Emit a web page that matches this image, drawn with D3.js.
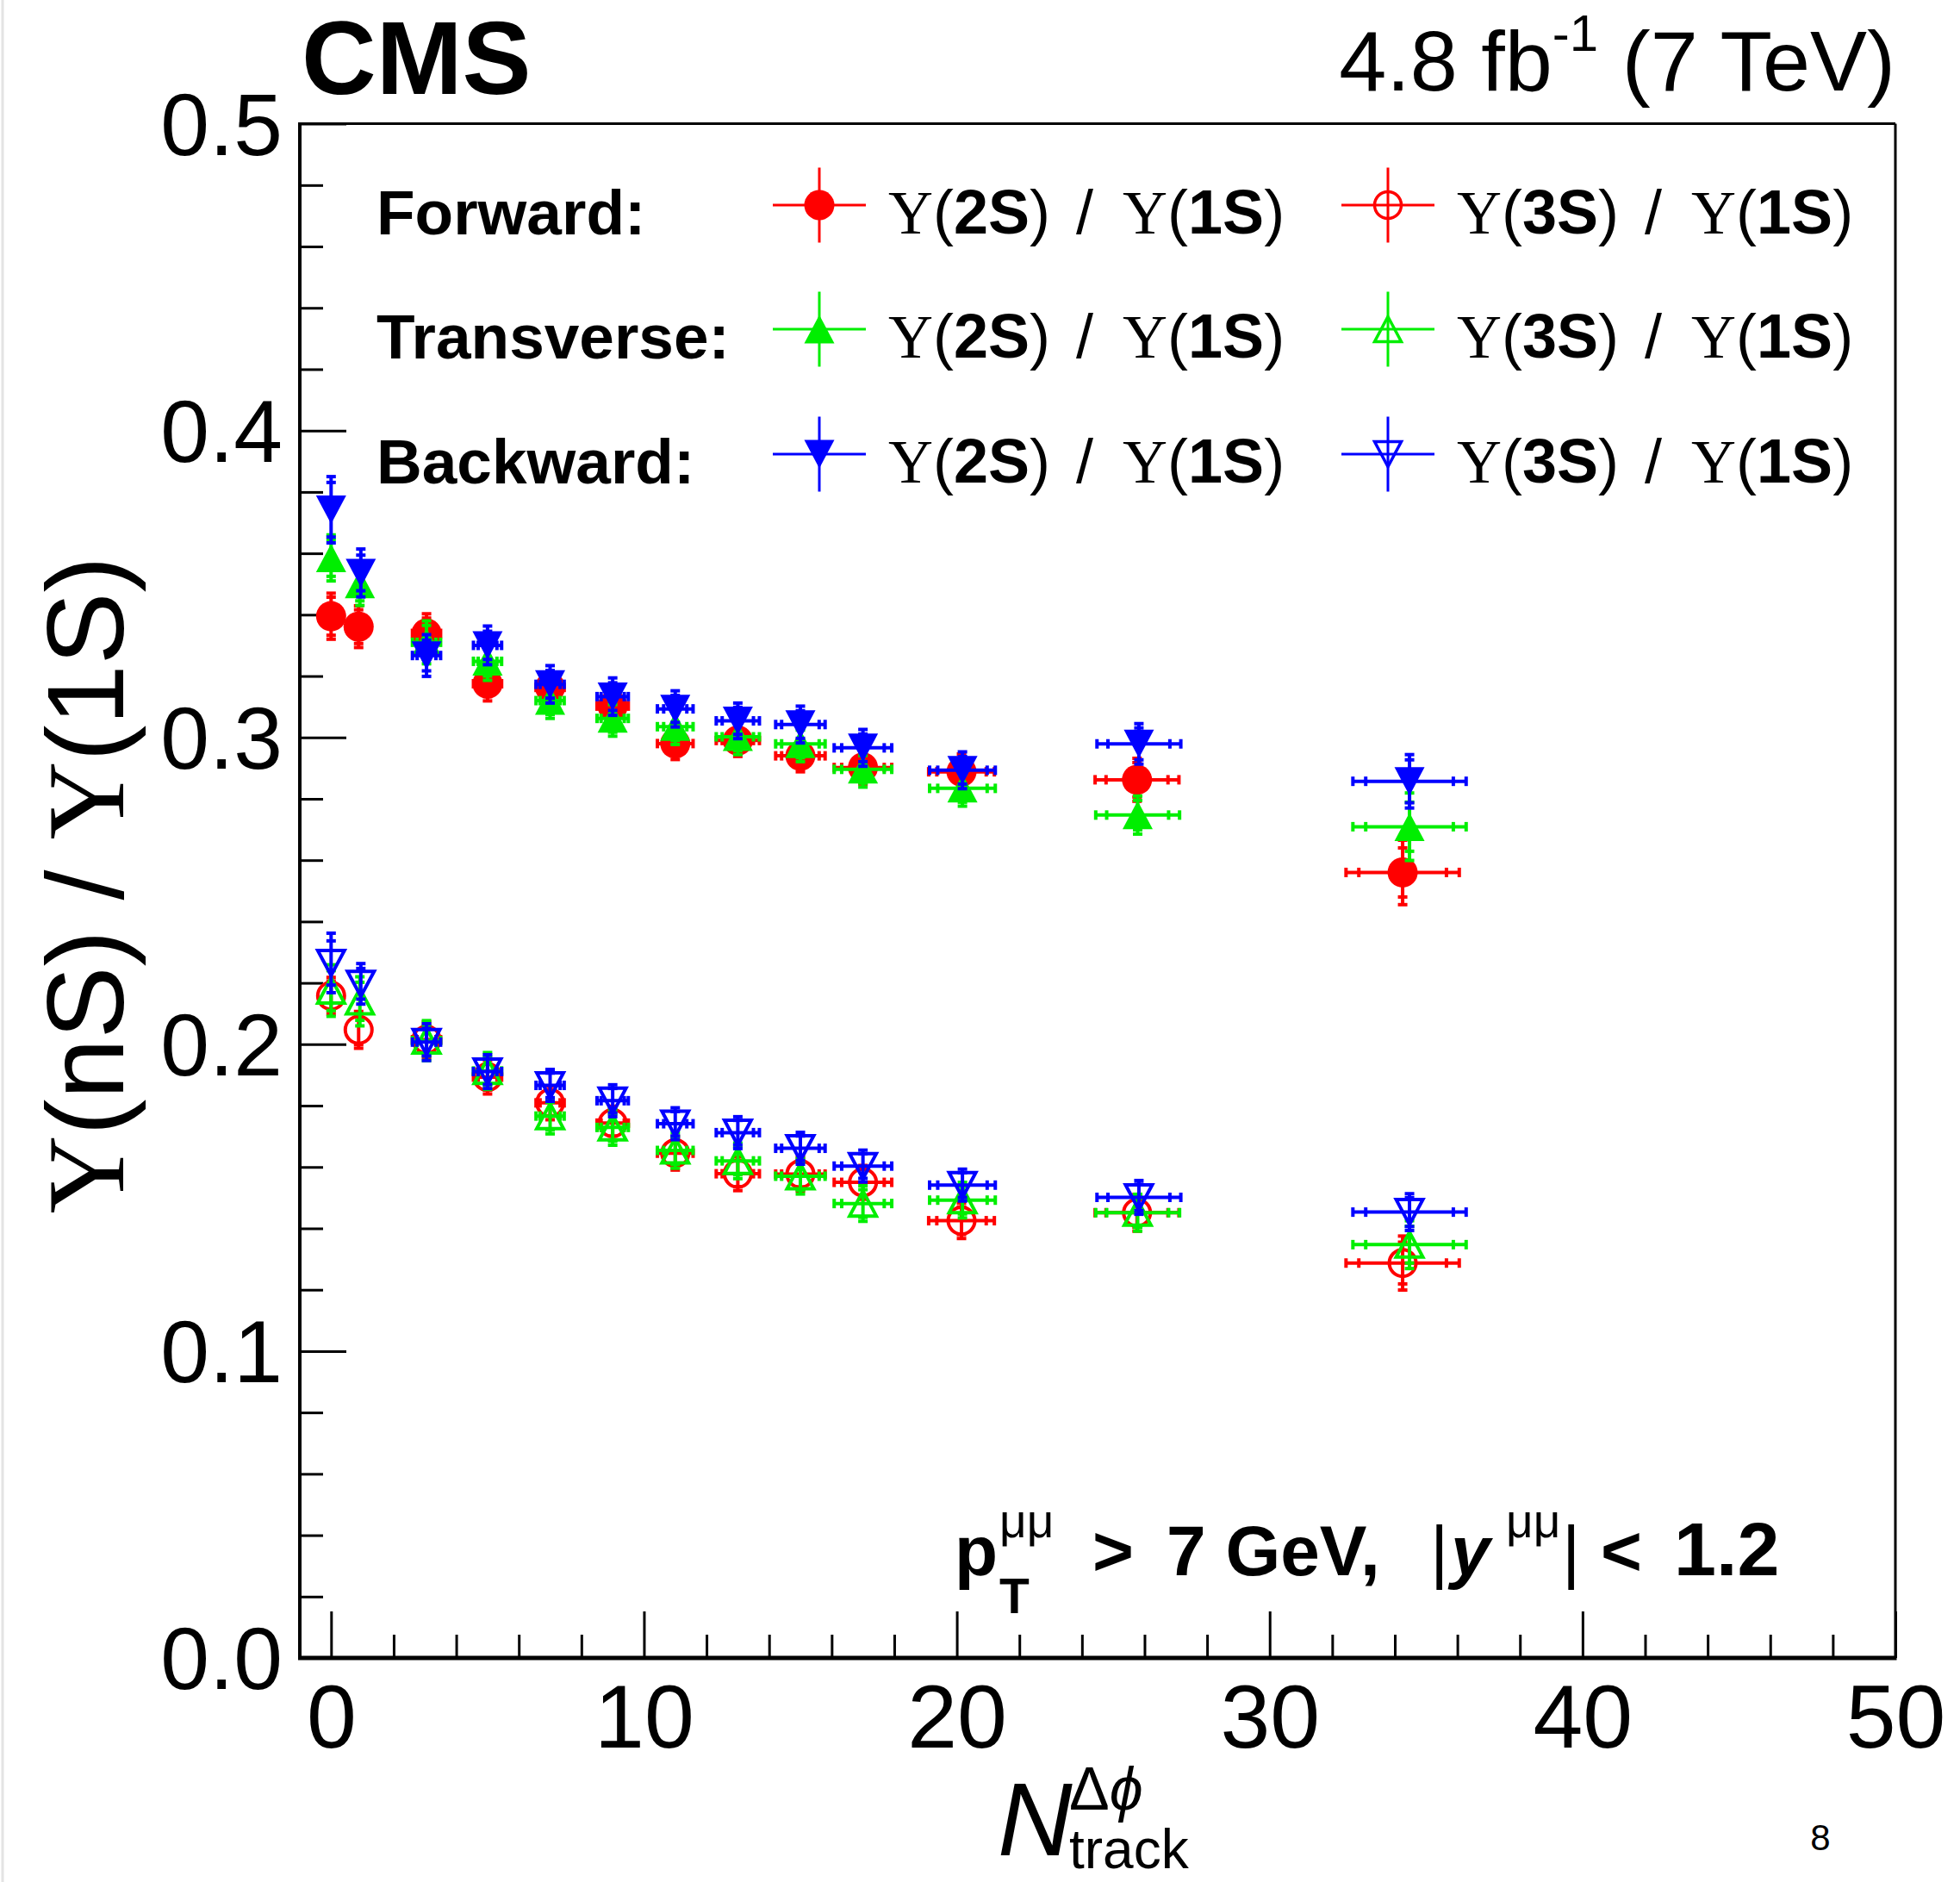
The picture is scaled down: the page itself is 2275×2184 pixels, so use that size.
<!DOCTYPE html>
<html>
<head>
<meta charset="utf-8">
<script src="https://cdn.jsdelivr.net/npm/d3@7"></script>
<style>
body { margin: 0; background: #fff; }
svg { display: block; }
text { font-family: "Liberation Sans", Arial, sans-serif; white-space: pre; }
</style>
</head>
<body>
<svg id="svg" width="2275" height="2184"></svg>
<script>
// bin centres per region (the points are shifted a little in the last bins)
var xFwd   = [0, 0.88, 3.05, 5, 7, 9, 11, 13, 15, 17, 20.15, 25.76, 34.25];
var xTrans = [0, 0.92, 3.05, 5, 7, 9, 11, 13, 15, 17, 20.18, 25.78, 34.47];
var xBack  = [0, 0.95, 3.05, 5, 7, 9, 11, 13, 15, 17, 20.18, 25.82, 34.47];
// horizontal error bars (outer and inner tick)
var xErrOut = [0, 0, 0.45, 0.45, 0.45, 0.5, 0.57, 0.69, 0.79, 0.92, 1.05, 1.34, 1.81];
var xErrIn  = [0, 0, 0.3, 0.3, 0.32, 0.37, 0.37, 0.5, 0.6, 0.68, 0.79, 0.99, 1.4];

// Y(2S)/Y(1S)
var fwd2S   = [0.3395, 0.3361, 0.3339, 0.3175, 0.3163, 0.3102, 0.2980, 0.2990, 0.2940, 0.2902, 0.2888, 0.2862, 0.2560];
var fwd2SErr  = [0.0075, 0.0068, 0.0064, 0.0056, 0.0052, 0.0052, 0.0052, 0.0052, 0.0052, 0.0054, 0.0058, 0.0070, 0.0105];
var fwd2SStat = [0.0062, 0.0055, 0.0050, 0.0042, 0.0040, 0.0040, 0.0040, 0.0040, 0.0040, 0.0042, 0.0045, 0.0056, 0.0080];
var trans2S = [0.3585, 0.3500, 0.3310, 0.3248, 0.3120, 0.3062, 0.3035, 0.3002, 0.2979, 0.2896, 0.2834, 0.2747, 0.2709];
var trans2SErr  = [0.0075, 0.0070, 0.0070, 0.0062, 0.0058, 0.0058, 0.0058, 0.0058, 0.0058, 0.0058, 0.0058, 0.0062, 0.0110];
var trans2SStat = [0.0060, 0.0055, 0.0055, 0.0048, 0.0045, 0.0045, 0.0045, 0.0045, 0.0045, 0.0045, 0.0045, 0.0048, 0.0080];
var back2S  = [0.3742, 0.3536, 0.3267, 0.3300, 0.3173, 0.3133, 0.3093, 0.3054, 0.3042, 0.2966, 0.2893, 0.2979, 0.2857];
var back2SErr  = [0.0108, 0.0078, 0.0068, 0.0063, 0.0061, 0.0061, 0.0059, 0.0058, 0.0060, 0.0060, 0.0060, 0.0066, 0.0087];
var back2SStat = [0.0089, 0.0058, 0.0050, 0.0046, 0.0045, 0.0045, 0.0044, 0.0044, 0.0045, 0.0045, 0.0045, 0.0052, 0.0070];

// Y(3S)/Y(1S)
var fwd3S   = [0.2158, 0.2047, 0.2015, 0.1893, 0.1809, 0.1743, 0.1645, 0.1578, 0.1577, 0.1550, 0.1425, 0.1451, 0.1287];
var fwd3SErr  = [0.0060, 0.0060, 0.0058, 0.0055, 0.0055, 0.0055, 0.0055, 0.0055, 0.0055, 0.0055, 0.0058, 0.0060, 0.0088];
var fwd3SStat = [0.0048, 0.0048, 0.0045, 0.0042, 0.0042, 0.0042, 0.0042, 0.0042, 0.0042, 0.0042, 0.0045, 0.0047, 0.0068];
var trans3S = [0.2175, 0.2140, 0.2012, 0.1913, 0.1766, 0.1729, 0.1654, 0.1620, 0.1570, 0.1481, 0.1492, 0.1451, 0.1347];
var trans3SErr  = [0.0084, 0.0080, 0.0065, 0.0060, 0.0058, 0.0058, 0.0058, 0.0058, 0.0058, 0.0058, 0.0058, 0.0060, 0.0078];
var trans3SStat = [0.0065, 0.0062, 0.0050, 0.0046, 0.0045, 0.0045, 0.0045, 0.0045, 0.0045, 0.0045, 0.0045, 0.0047, 0.0060];
var back3S  = [0.2265, 0.2197, 0.2007, 0.1911, 0.1866, 0.1816, 0.1741, 0.1712, 0.1661, 0.1603, 0.1541, 0.1501, 0.1453];
var back3SErr  = [0.0097, 0.0066, 0.0060, 0.0055, 0.0052, 0.0052, 0.0052, 0.0052, 0.0052, 0.0052, 0.0052, 0.0055, 0.0060];
var back3SStat = [0.0072, 0.0050, 0.0045, 0.0042, 0.0040, 0.0040, 0.0040, 0.0040, 0.0040, 0.0040, 0.0040, 0.0043, 0.0047];

var xMajor = [0, 10, 20, 30, 40, 50];
var yMajor = [0, 0.1, 0.2, 0.3, 0.4, 0.5];
var regions = ["Forward:", "Transverse:", "Backward:"];

var series = [
  {x: xFwd,   y: fwd2S,   err: fwd2SErr,   stat: fwd2SStat,   color: "#ff0000", shape: "circle", filled: true,  row: 0, col: 0, n: "2"},
  {x: xFwd,   y: fwd3S,   err: fwd3SErr,   stat: fwd3SStat,   color: "#ff0000", shape: "circle", filled: false, row: 0, col: 1, n: "3"},
  {x: xTrans, y: trans2S, err: trans2SErr, stat: trans2SStat, color: "#00ee00", shape: "up",     filled: true,  row: 1, col: 0, n: "2"},
  {x: xTrans, y: trans3S, err: trans3SErr, stat: trans3SStat, color: "#00ee00", shape: "up",     filled: false, row: 1, col: 1, n: "3"},
  {x: xBack,  y: back2S,  err: back2SErr,  stat: back2SStat,  color: "#0000ff", shape: "down",   filled: true,  row: 2, col: 0, n: "2"},
  {x: xBack,  y: back3S,  err: back3SErr,  stat: back3SStat,  color: "#0000ff", shape: "down",   filled: false, row: 2, col: 1, n: "3"}
];

var svg = d3.select("#svg");
var x = d3.scaleLinear().domain([-1, 50]).range([348, 2200]);
var y = d3.scaleLinear().domain([0, 0.5]).range([1924, 143.6]);

// faint page edge on the left
svg.append("line").attr("x1", 3).attr("x2", 3).attr("y1", 0).attr("y2", 2184)
  .attr("stroke", "#e4e4e4").attr("stroke-width", 3);

// axes
var gx = svg.append("g").attr("transform", "translate(0,1924)")
  .call(d3.axisBottom(x).tickValues(d3.range(0, 50, 2).filter(function(d){ return d % 10 != 0; })).tickSize(-27).tickFormat(""));
var gx2 = svg.append("g").attr("transform", "translate(0,1924)")
  .call(d3.axisBottom(x).tickValues(xMajor).tickSize(-54).tickPadding(30).tickFormat(d3.format("d")));
var gy = svg.append("g").attr("transform", "translate(348,0)")
  .call(d3.axisLeft(y).tickValues(d3.range(0.02, 0.5, 0.02).filter(function(d){ return Math.abs(d*10 - Math.round(d*10)) > 0.01; })).tickSize(-27).tickFormat(""));
var gy2 = svg.append("g").attr("transform", "translate(348,0)")
  .call(d3.axisLeft(y).tickValues(yMajor).tickSize(-54).tickPadding(20).tickFormat(d3.format(".1f")));
[gx, gx2, gy, gy2].forEach(function(g){
  g.select(".domain").remove();
  g.selectAll(".tick line").attr("stroke", "#000").attr("stroke-width", 3);
});
gx2.selectAll(".tick text").attr("font-size", 104).attr("fill", "#000").attr("font-family", "Liberation Sans, Arial, sans-serif");
gy2.selectAll(".tick text").attr("font-size", 102).attr("fill", "#000").attr("font-family", "Liberation Sans, Arial, sans-serif").attr("dy", "0.35em");

// frame
svg.append("line").attr("x1", 348).attr("x2", 2200).attr("y1", 143.6).attr("y2", 143.6).attr("stroke", "#000").attr("stroke-width", 3);
svg.append("line").attr("x1", 2200).attr("x2", 2200).attr("y1", 143.6).attr("y2", 1924).attr("stroke", "#000").attr("stroke-width", 3);
svg.append("line").attr("x1", 348).attr("x2", 348).attr("y1", 142).attr("y2", 1926).attr("stroke", "#000").attr("stroke-width", 4);
svg.append("line").attr("x1", 346).attr("x2", 2201.5).attr("y1", 1924).attr("y2", 1924).attr("stroke", "#000").attr("stroke-width", 5);

function markerPath(shape, filled) {
  var w = filled ? 17.5 : 15.5, h = filled ? 16.5 : 14.5, r = filled ? 17.5 : 15.5;
  if (shape == "circle") return "M" + r + ",0A" + r + "," + r + " 0 1 1 " + (-r) + ",0A" + r + "," + r + " 0 1 1 " + r + ",0Z";
  if (shape == "up") return "M0," + (-h) + "L" + w + "," + h + "L" + (-w) + "," + h + "Z";
  return "M" + (-w) + "," + (-h) + "L" + w + "," + (-h) + "L0," + h + "Z";
}

var cap = 5.5;
series.forEach(function(s) {
  var g = svg.append("g").attr("stroke", s.color).attr("stroke-width", 4).attr("fill", "none");
  var pts = s.y.map(function(v, i) { return {i: i, x: s.x[i], y: v, err: s.err[i], stat: s.stat[i], xo: xErrOut[i], xi: xErrIn[i]}; });

  var eb = g.selectAll("g.pt").data(pts).enter().append("g").attr("class", "pt");
  // vertical bars and caps
  eb.append("line")
    .attr("x1", function(d){ return x(d.x); }).attr("x2", function(d){ return x(d.x); })
    .attr("y1", function(d){ return y(d.y - d.err); }).attr("y2", function(d){ return y(d.y + d.err); });
  [-1, 1].forEach(function(sg) {
    ["err", "stat"].forEach(function(k) {
      eb.append("line")
        .attr("x1", function(d){ return x(d.x) - cap; }).attr("x2", function(d){ return x(d.x) + cap; })
        .attr("y1", function(d){ return y(d.y + sg * d[k]); }).attr("y2", function(d){ return y(d.y + sg * d[k]); });
    });
  });
  // horizontal bars and ticks
  var hb = eb.filter(function(d){ return d.xo > 0; });
  hb.append("line")
    .attr("x1", function(d){ return x(d.x - d.xo); }).attr("x2", function(d){ return x(d.x + d.xo); })
    .attr("y1", function(d){ return y(d.y); }).attr("y2", function(d){ return y(d.y); });
  [-1, 1].forEach(function(sg) {
    ["xo", "xi"].forEach(function(k) {
      hb.append("line")
        .attr("x1", function(d){ return x(d.x + sg * d[k]); }).attr("x2", function(d){ return x(d.x + sg * d[k]); })
        .attr("y1", function(d){ return y(d.y) - cap; }).attr("y2", function(d){ return y(d.y) + cap; });
    });
  });
  // markers
  g.selectAll("path.mk").data(pts).enter().append("path").attr("class", "mk")
    .attr("transform", function(d){ return "translate(" + x(d.x) + "," + y(d.y) + ")"; })
    .attr("d", markerPath(s.shape, s.filled))
    .attr("fill", s.filled ? s.color : "none")
    .attr("stroke", s.filled ? "none" : s.color);
});

// legend
var rowY = [238, 382, 527];
var colX = [951, 1611];
svg.selectAll("text.reg").data(regions).enter().append("text").attr("class", "reg")
  .attr("x", 437).attr("y", function(d, i){ return rowY[i] + 34; })
  .attr("font-size", 73).attr("font-weight", "bold").text(function(d){ return d; });

function ratioText(t, num) {
  t.append("tspan").attr("font-family", "Liberation Serif, serif").text("\u03A5");
  t.append("tspan").text("(");
  t.append("tspan").attr("font-weight", "bold").text(num + "S");
  t.append("tspan").text(")");
  t.append("tspan").attr("dx", 30).text("/");
  t.append("tspan").attr("dx", 34).attr("font-family", "Liberation Serif, serif").text("\u03A5");
  t.append("tspan").text("(");
  t.append("tspan").attr("font-weight", "bold").text("1S");
  t.append("tspan").text(")");
}

series.forEach(function(s) {
  var cx = colX[s.col], cy = rowY[s.row];
  var g = svg.append("g").attr("stroke", s.color).attr("stroke-width", 3).attr("fill", "none");
  g.append("line").attr("x1", cx - 54).attr("x2", cx + 54).attr("y1", cy).attr("y2", cy);
  g.append("line").attr("x1", cx).attr("x2", cx).attr("y1", cy - 43.5).attr("y2", cy + 43.5);
  g.append("path").attr("transform", "translate(" + cx + "," + cy + ")")
    .attr("d", markerPath(s.shape, s.filled))
    .attr("fill", s.filled ? s.color : "none")
    .attr("stroke", s.filled ? "none" : s.color).attr("stroke-width", 3.5);
  var t = svg.append("text").attr("x", cx + 80).attr("y", cy + 33).attr("font-size", 72);
  ratioText(t, s.n);
});

// titles
svg.append("text").attr("x", 350).attr("y", 109).attr("font-size", 120).attr("font-weight", "bold").text("CMS");

var lumi = svg.append("text").attr("x", 2200).attr("y", 105).attr("text-anchor", "end").attr("font-size", 99);
lumi.append("tspan").text("4.8 fb");
lumi.append("tspan").attr("font-size", 60).attr("dy", -46).text("-1");
lumi.append("tspan").attr("dy", 46).text(" (7 TeV)");

var yt = svg.append("text").attr("transform", "translate(143,1027) rotate(-90)")
  .attr("text-anchor", "middle").attr("font-size", 126);
yt.append("tspan").attr("font-family", "Liberation Serif, serif").text("\u03A5");
yt.append("tspan").text("(nS) / ");
yt.append("tspan").attr("font-family", "Liberation Serif, serif").text("\u03A5");
yt.append("tspan").text("(1S)");

svg.append("text").attr("x", 1158).attr("y", 2153).attr("font-size", 120).attr("font-style", "italic").text("N");
var sup = svg.append("text").attr("x", 1241).attr("y", 2100).attr("font-size", 70);
sup.append("tspan").text("\u0394");
sup.append("tspan").attr("font-style", "italic").text("\u03D5");
svg.append("text").attr("x", 1241).attr("y", 2168).attr("font-size", 64).text("track");

// kinematic cuts
var cut = svg.append("g").attr("font-weight", "bold");
cut.append("text").attr("x", 1108).attr("y", 1828).attr("font-size", 82).text("p");
cut.append("text").attr("x", 1160).attr("y", 1872).attr("font-size", 57).text("T");
cut.append("text").attr("x", 1160).attr("y", 1784).attr("font-size", 55).attr("font-weight", "normal").text("\u03BC\u03BC");
cut.append("text").attr("x", 1268).attr("y", 1828).attr("font-size", 82).text(">");
cut.append("text").attr("x", 1354).attr("y", 1828).attr("font-size", 82).text("7 GeV,");
cut.append("text").attr("x", 1660).attr("y", 1828).attr("font-size", 82).attr("font-weight", "normal").text("|");
cut.append("text").attr("x", 1684).attr("y", 1828).attr("font-size", 82).attr("font-style", "italic").text("y");
cut.append("text").attr("x", 1748).attr("y", 1784).attr("font-size", 55).attr("font-weight", "normal").text("\u03BC\u03BC");
cut.append("text").attr("x", 1813).attr("y", 1828).attr("font-size", 82).attr("font-weight", "normal").text("|");
cut.append("text").attr("x", 1858).attr("y", 1828).attr("font-size", 82).text("<");
cut.append("text").attr("x", 1943).attr("y", 1828).attr("font-size", 88).text("1.2");

// page number
svg.append("text").attr("x", 2113).attr("y", 2147).attr("text-anchor", "middle")
  .attr("font-size", 42).attr("font-family", "Open Sans, sans-serif").text("8");
</script>
</body>
</html>
